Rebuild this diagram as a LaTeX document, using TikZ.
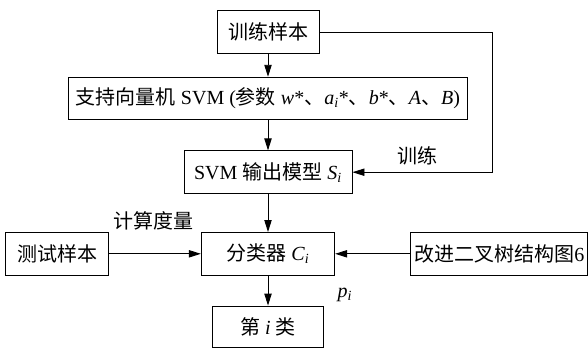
\documentclass[tikz,border=0pt]{standalone}
\usepackage{fontspec}
\setmainfont{Liberation Serif}
\newfontfamily\zh{Noto Sans CJK SC}
\usetikzlibrary{arrows.meta,positioning}
\newcommand{\sub}[2]{\textit{#1}\textsubscript{\textit{#2}}}

\begin{document}
\begin{tikzpicture}[
  font=\fontsize{15pt}{18pt}\selectfont,
  box/.style={draw, line width=0.7pt, minimum height=32pt, inner sep=2pt},
  lbl/.style={inner sep=0pt},
  arr/.style={-{Triangle[length=9pt,width=5.5pt]}, line width=0.7pt}]

\useasboundingbox (0,0) rectangle (441pt,-260.25pt);

\node[box, minimum width=76.5pt] (train) at (201pt,-24pt) {\zh 训练样本};
\node[box, minimum width=299pt, below=17.25pt of train] (svm)
  {{\zh 支持向量机} SVM ({\zh 参数} \textit{w}*{\zh 、}\sub{a}{i}*{\zh 、}\textit{b}*{\zh 、}\textit{A}{\zh 、}\textit{B})};
\node[box, minimum width=126pt, below=22.5pt of svm] (model) {SVM {\zh 输出模型} \sub{S}{i}};
\node[box, minimum width=100pt, below=28.5pt of model] (cls) {{\zh 分类器} \sub{C}{i}};
\node[box, minimum width=77pt, left=69pt of cls] (test) {\zh 测试样本};
\node[box, minimum width=133pt, right=56.25pt of cls] (tree) {{\zh 改进二叉树结构图}6};
\node[box, minimum width=83pt, minimum height=31pt, below=22.5pt of cls] (cat) {{\zh 第} \textit{i} {\zh 类}};

\coordinate (turn) at (369pt,-24pt);

\node[lbl] (meas) at (114.75pt,-165.75pt) {\zh 计算度量};
\node[lbl] (trn) at (312.75pt,-117pt) {\zh 训练};
\node[lbl] (prob) at (258.75pt,-221.25pt) {\sub{p}{i}};

\draw[arr] (train) -- (svm);
\draw[arr] (svm) -- (model);
\draw[arr] (model) -- (cls);
\draw[arr] (cls) -- (cat);
\draw[arr] (test) -- (cls);
\draw[arr] (tree) -- (cls);
\draw[arr] (train.east) -- (turn) |- (model.east);
\end{tikzpicture}
\end{document}
